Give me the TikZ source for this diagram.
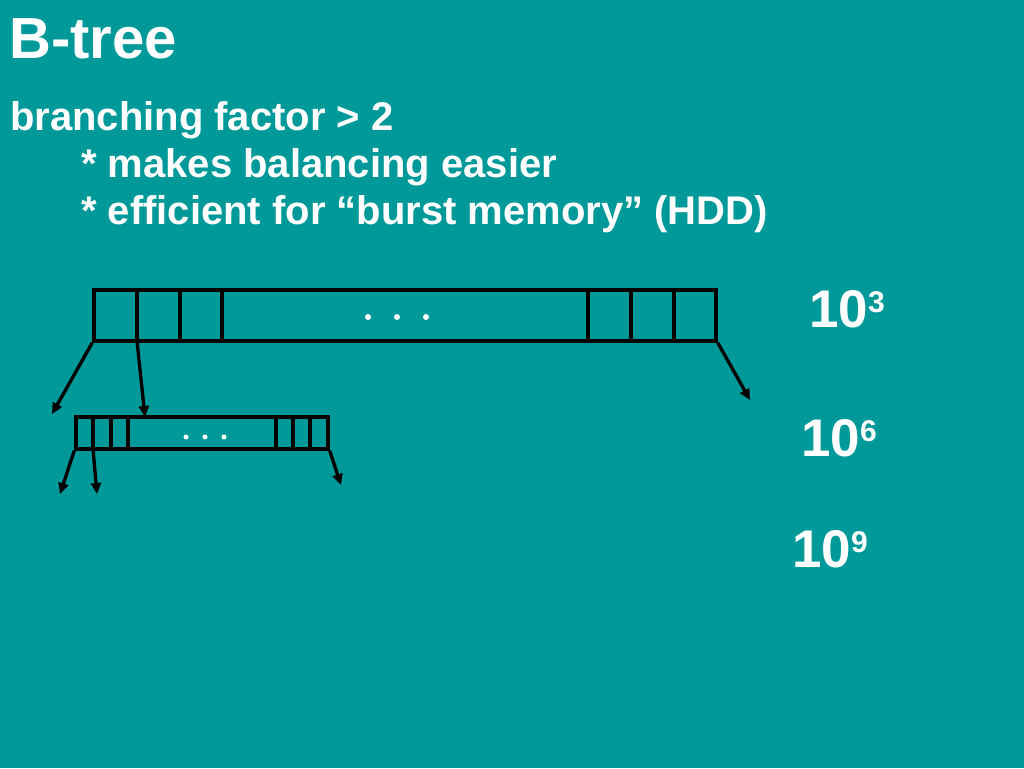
\documentclass[tikz,border=0pt]{standalone}
\usepackage{fontspec}
\setmainfont{Liberation Sans}
\usetikzlibrary{arrows.meta}
\definecolor{bg}{RGB}{0,153,153}
\begin{document}
\begin{tikzpicture}[x=1pt,y=-1pt,
  title/.style={anchor=base west,inner sep=0pt,text=white,font=\bfseries\fontsize{58}{58}\selectfont},
  txt/.style={anchor=base west,inner sep=0pt,text=white,font=\bfseries\fontsize{40}{40}\selectfont},
  num/.style={anchor=base west,inner sep=0pt,text=white,font=\bfseries\fontsize{53}{53}\selectfont},
  keynode/.style={draw=black,line width=3.5pt,rectangle,inner sep=0pt},
  cell/.style={draw=black,line width=3.5pt},
  ptr/.style={draw=black,line width=3.3pt,-{Triangle[length=11pt,width=10pt]}},
  dot/.style={circle,fill=white,inner sep=0pt,minimum size=6pt}]
\fill[bg] (0,0) rectangle (1024,768);
\useasboundingbox (0,0) rectangle (1024,768);
% texts
\node[title] (t) at (9,59) {B-tree};
\node[txt] (l1) at (10,130) {branching factor > 2};
\node[txt] (l2) at (81,177) {* makes balancing easier};
\node[txt] (l3) at (81,224) {* efficient for “burst memory” (HDD)};
\node[num] (n3) at (809,327) {10\raisebox{15pt}{\fontsize{30}{30}\selectfont 3}};
\node[num] (n6) at (801,456) {10\raisebox{15pt}{\fontsize{30}{30}\selectfont 6}};
\node[num] (n9) at (792,567) {10\raisebox{15pt}{\fontsize{30}{30}\selectfont 9}};
% top node
\node[keynode,minimum width=622pt,minimum height=51pt] (top) at (405,315.5) {};
\foreach \x in {137,180,222,588,631,674} \draw[cell] (\x,290) -- (\x,341);
\foreach \x/\n in {368/d1,397/d2,426/d3} \node[dot] (\n) at (\x,317) {};
% second node
\node[keynode,minimum width=252pt,minimum height=32pt] (sub) at (202,433) {};
\foreach \x in {93,111,128,276,293,310} \draw[cell] (\x,417) -- (\x,449);
\foreach \x/\n in {186/e1,205/e2,224/e3} \node[dot,minimum size=5pt] (\n) at (\x,437) {};
% pointers
\coordinate (p1) at (137,341);
\coordinate (q1) at (93,449);
\coordinate (a1) at (52,414);
\coordinate (a2) at (145,417);
\coordinate (a3) at (750,400);
\coordinate (b1) at (60,494);
\coordinate (b2) at (97,494);
\coordinate (b3) at (341,485);
\draw[ptr] (top.south west) -- (a1);
\draw[ptr] (p1) -- (a2);
\draw[ptr] (top.south east) -- (a3);
\draw[ptr] (sub.south west) -- (b1);
\draw[ptr] (q1) -- (b2);
\draw[ptr] (sub.south east) -- (b3);
\end{tikzpicture}
\end{document}
